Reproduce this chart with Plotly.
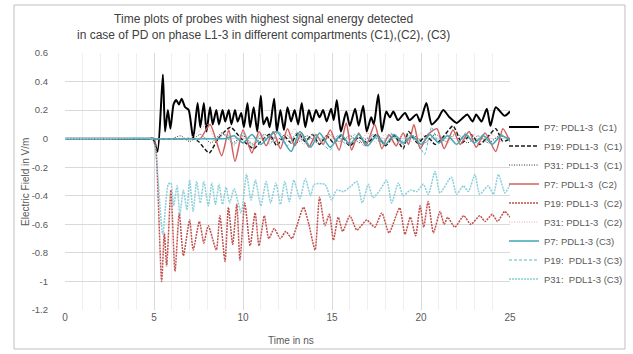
import plotly.graph_objects as go

# ---------------- data (time in ns, field in V/m) ----------------
P7_C1 = [(0,0),(2.5,0),(4.7,0),(4.95,0),(5.2,-0.09),(5.5,0.45),(5.62,0.05),(5.78,0.2),(5.92,0.07),(6.1,0.24),(6.25,0.27),(6.4,0.24),
         (6.55,0.28),(6.75,0.22),(6.95,0.2),(7.2,0.0),(7.45,0.25),(7.6,0.08),(7.8,0.25),(7.95,0.05),(8.15,0.22),(8.3,0.1),
         (8.5,0.2),(8.65,0.1),(8.85,0.2),(9.0,0.12),(9.2,0.2),(9.35,0.1),(9.55,0.2),(9.7,0.12),(9.9,0.18),(10.05,0.08),
         (10.25,0.25),(10.4,0.08),(10.6,0.22),(10.8,0.05),(11.0,0.3),(11.15,0.1),(11.35,0.15),(11.5,0.08),(11.75,0.28),(11.9,0.05),
         (12.1,0.2),(12.3,0.06),(12.5,0.22),(12.7,0.12),(12.9,0.2),(13.1,0.1),(13.3,0.25),(13.5,0.08),(13.7,0.2),(13.9,0.12),
         (14.1,0.2),(14.3,0.15),(14.5,0.2),(14.7,0.12),(14.95,0.21),(15.1,0.13),(15.27,0.27),(15.5,0.05),(15.8,0.19),(16.0,0.09),
         (16.3,0.21),(16.5,0.09),(16.75,0.23),(16.95,0.05),(17.2,0.15),(17.35,0.1),(17.6,0.31),(17.8,0.05),(18.05,0.19),(18.25,0.15),
         (18.45,0.19),(18.7,0.13),(19.1,0.18),(19.35,0.13),(19.75,0.17),(19.95,0.12),(20.3,0.25),(20.6,0.1),(20.95,0.14),(21.25,0.2),
         (21.6,0.15),(22.0,0.11),(22.3,0.14),(22.6,0.17),(22.9,0.12),(23.1,0.17),(23.4,0.12),(23.7,0.21),(23.9,0.09),(24.2,0.22),
         (24.7,0.16),(25,0.19)]

P19_C1 = [(0,0),(3.5,0),(6.8,0),(7.2,0),(7.5,-0.02),(8.1,-0.1),(8.6,0.0),(9.3,0.08),(9.9,0.0),(10.6,-0.07),(11.0,-0.02),(11.5,0.03),
          (11.9,-0.05),(12.3,0.02),(12.7,-0.03),(13.1,0.04),(13.5,-0.02),(13.9,0.03),(14.3,-0.04),(14.7,0.02),(15.1,-0.03),(15.5,0.02),
          (16.0,-0.05),(16.5,0.01),(17.0,-0.03),(17.5,0.03),(18.0,-0.05),(18.5,0.02),(19.0,-0.07),(19.3,0.05),(19.8,-0.03),(20.3,0.02),
          (20.8,-0.04),(21.3,0.02),(21.8,0.09),(22.3,-0.03),(22.8,0.03),(23.3,-0.04),(23.8,0.02),(24.2,0.07),(24.6,-0.02),(25,0.0)]

P31_C1 = [(0,0),(3.0,0),(5.6,0),(6.0,0),(6.5,0.02),(7.0,-0.02),(7.6,0.03),(8.2,-0.03),(8.8,0.04),(9.4,-0.03),(10.0,0.02),(10.6,-0.04),
          (11.2,0.03),(11.8,-0.02),(12.4,0.03),(13.0,-0.03),(13.6,0.02),(14.2,-0.03),(14.8,0.03),(15.4,-0.02),(16.0,0.02),(16.6,-0.03),
          (17.2,0.02),(17.8,-0.02),(18.4,0.03),(19.0,-0.04),(19.6,0.02),(20.2,-0.03),(20.8,0.03),(21.4,-0.02),(22.0,0.04),(22.6,-0.03),
          (23.2,0.02),(23.8,-0.03),(24.4,0.02),(25,0.0)]

P7_C2 = [(0,0),(3.5,0),(7.2,0),(7.6,0),(8.15,0.1),(8.8,-0.12),(9.2,0.06),(9.55,-0.16),(10.0,0.06),(10.5,-0.1),(10.9,0.05),(11.3,-0.05),
         (11.7,0.05),(12.1,-0.07),(12.5,0.07),(12.9,-0.05),(13.3,0.04),(13.7,-0.06),(14.1,0.03),(14.5,-0.04),(14.9,0.06),(15.4,-0.08),
         (15.8,0.11),(16.1,-0.08),(16.5,0.04),(16.9,-0.05),(17.4,0.1),(17.8,-0.07),(18.2,0.03),(18.6,-0.05),(19.0,0.04),(19.3,-0.04),
         (19.6,0.1),(19.95,-0.07),(20.4,0.03),(20.9,0.07),(21.3,-0.07),(21.8,0.06),(22.2,-0.04),(22.7,0.05),(23.1,-0.06),(23.6,0.04),
         (24.2,-0.09),(24.6,0.07),(25,-0.02)]

P19_C2 = [(0,0),(2.5,0),(4.8,0),(5.0,0),(5.1,-0.05),(5.43,-1.0),(5.58,-0.66),(5.71,-0.89),(5.95,-0.36),(6.18,-0.93),(6.42,-0.52),(6.65,-0.82),
          (7.0,-0.57),(7.2,-0.78),(7.55,-0.58),(7.8,-0.73),(8.05,-0.61),(8.5,-0.78),(8.7,-0.54),(8.99,-0.86),(9.18,-0.48),(9.42,-0.74),
          (9.65,-0.46),(9.83,-0.85),(10.1,-0.45),(10.4,-0.75),(10.68,-0.52),(10.9,-0.75),(11.2,-0.54),(11.45,-0.7),(11.75,-0.63),(12.1,-0.7),
          (12.4,-0.65),(12.75,-0.7),(13.0,-0.62),(13.4,-0.48),(13.7,-0.6),(14.05,-0.78),(14.3,-0.41),(14.6,-0.61),(14.85,-0.53),(15.08,-0.71),
          (15.35,-0.55),(15.6,-0.65),(16.0,-0.54),(16.4,-0.64),(16.95,-0.57),(17.4,-0.62),(17.8,-0.52),(18.2,-0.66),(18.8,-0.485),(19.1,-0.67),
          (19.4,-0.55),(19.7,-0.68),(19.95,-0.47),(20.15,-0.62),(20.4,-0.44),(20.7,-0.66),(21.07,-0.51),(21.3,-0.6),(21.5,-0.55),(21.9,-0.62),
          (22.4,-0.54),(22.8,-0.6),(23.3,-0.54),(23.6,-0.58),(24.0,-0.53),(24.3,-0.58),(24.7,-0.51),(25,-0.55)]

P31_C2 = [(0,0),(3.5,0),(6.6,0),(7.0,0),(7.5,0.05),(8.0,0.1),(8.5,-0.03),(9.0,0.06),(9.5,-0.05),(10.0,0.05),(10.5,-0.04),(11.0,0.04),
          (11.5,-0.03),(12.0,0.05),(12.5,-0.02),(12.9,0.07),(13.4,-0.04),(14.0,0.04),(14.5,-0.03),(15.0,0.03),(15.5,-0.04),(16.0,0.03),
          (16.5,-0.03),(17.0,0.04),(17.5,-0.03),(18.0,0.03),(18.5,-0.04),(19.0,0.03),(19.5,-0.02),(20.0,0.04),(20.5,-0.03),(21.0,0.03),
          (21.5,-0.03),(22.0,0.04),(22.5,-0.02),(23.0,0.03),(23.5,-0.03),(24.0,0.03),(24.5,-0.02),(25,0.01)]

P7_C3 = [(0,0),(4.5,0),(8.6,0),(9.0,0),(9.5,0.02),(10.0,-0.03),(10.5,0.03),(11.0,-0.04),(11.5,0.02),(11.9,0.05),(12.7,-0.09),(13.2,0.05),
         (13.8,-0.06),(14.3,0.04),(14.9,-0.06),(15.5,0.03),(16.0,-0.04),(16.5,0.03),(17.0,-0.05),(17.5,0.02),(18.0,-0.04),(18.5,0.03),
         (19.0,-0.03),(19.5,0.02),(20.0,-0.04),(20.5,0.03),(21.0,-0.03),(21.5,0.02),(22.0,-0.04),(22.5,0.03),(23.0,-0.03),(23.5,0.02),
         (24.0,-0.04),(24.5,0.02),(25,-0.01)]

P19_C3 = [(0,0),(4.0,0),(8.1,0),(8.5,0),(9.0,0.03),(9.5,-0.04),(10.0,0.04),(10.5,-0.05),(11.0,0.03),(11.5,-0.04),(12.0,0.05),(12.5,-0.05),
          (13.0,0.04),(13.5,-0.03),(14.0,0.03),(14.5,-0.04),(14.9,-0.08),(15.3,0.02),(15.8,-0.04),(16.3,0.03),(16.8,-0.05),(17.3,0.03),
          (17.8,-0.04),(18.3,0.04),(18.8,-0.03),(19.3,0.02),(19.8,-0.02),(20.2,-0.11),(20.6,0.08),(21.0,-0.03),(21.5,0.03),(22.0,-0.04),
          (22.5,0.04),(23.0,-0.03),(23.5,0.03),(24.0,-0.04),(24.5,0.03),(25,-0.02)]

P31_C3 = [(0,0),(2.5,0),(4.85,0),(5.05,-0.05),(5.49,-0.67),(5.8,-0.32),(5.95,-0.31),(6.1,-0.47),(6.3,-0.33),(6.45,-0.53),(6.65,-0.36),(6.85,-0.5),
          (7.0,-0.29),(7.2,-0.51),(7.4,-0.3),(7.6,-0.45),(7.8,-0.3),(8.05,-0.47),(8.25,-0.31),(8.45,-0.46),(8.65,-0.32),(8.85,-0.46),
          (9.05,-0.34),(9.25,-0.45),(9.5,-0.35),(9.9,-0.52),(10.2,-0.25),(10.45,-0.43),(10.7,-0.29),(11.0,-0.47),(11.3,-0.3),(11.55,-0.45),
          (11.85,-0.31),(12.1,-0.46),(12.35,-0.3),(12.6,-0.44),(12.85,-0.29),(13.2,-0.42),(13.5,-0.28),(13.8,-0.4),(14.0,-0.32),(14.6,-0.32),
          (14.98,-0.43),(15.26,-0.36),(15.64,-0.37),(16.0,-0.34),(16.4,-0.30),(16.7,-0.45),(17.04,-0.32),(17.3,-0.415),(17.7,-0.36),(18.07,-0.29),
          (18.35,-0.45),(18.73,-0.31),(19.0,-0.40),(19.4,-0.36),(19.76,-0.37),(20.13,-0.32),(20.41,-0.39),(20.79,-0.23),(21.07,-0.38),(21.7,-0.27),
          (22.0,-0.39),(22.38,-0.33),(22.66,-0.37),(23.03,-0.25),(23.3,-0.39),(23.78,-0.33),(24.07,-0.39),(24.35,-0.25),(24.72,-0.38),(25,-0.32)]

series_names = ["P7: PDL1-3  (C1)", "P19: PDL1-3  (C1)", "P31: PDL1-3  (C1)",
                "P7: PDL1-3  (C2)", "P19: PDL1-3  (C2)", "P31: PDL1-3  (C2)",
                "P7: PDL1-3 (C3)", "P19:  PDL1-3 (C3)", "P31:  PDL1-3 (C3)"]
series_data = [P7_C1, P19_C1, P31_C1, P7_C2, P19_C2, P31_C2, P7_C3, P19_C3, P31_C3]

y_tick_vals = [0.6, 0.4, 0.2, 0, -0.2, -0.4, -0.6, -0.8, -1, -1.2]
y_tick_text = ["0.6", "0.4", "0.2", "0", "-0.2", "-0.4", "-0.6", "-0.8", "-1", "-1.2"]
x_tick_vals = [0, 5, 10, 15, 20, 25]

title_text = ("Time plots of probes with highest signal energy detected<br>"
              "in case of PD on phase L1-3 in different compartments (C1),(C2), (C3)")

# ---------------- styles ----------------
styles = [
    dict(color="#000000", width=2.0, dash="solid"),
    dict(color="#1a1a1a", width=1.5, dash="4px,2px"),
    dict(color="#333333", width=1.0, dash="1px,1.5px"),
    dict(color="#D0605E", width=1.5, dash="solid"),
    dict(color="#C0504D", width=1.5, dash="2px,1px"),
    dict(color="#E8AAAA", width=1.0, dash="1px,1.5px"),
    dict(color="#3FA6B5", width=1.5, dash="solid"),
    dict(color="#5BB8CC", width=1.0, dash="3px,2px"),
    dict(color="#8ACFDC", width=1.5, dash="2px,1px"),
]

FONT = "Liberation Sans, Arial, sans-serif"
TXT = "#595959"

fig = go.Figure()
for name, data, st in zip(series_names, series_data, styles):
    t = [p[0] for p in data]
    v = [p[1] for p in data]
    fig.add_trace(go.Scatter(x=t, y=v, mode="lines", name=name,
                             line=dict(color=st["color"], width=st["width"], dash=st["dash"],
                                       shape="spline", smoothing=0.6)))

L, R, T, B = 65, 123, 53, 44
W, H = 633, 354
pw, ph = W - L - R, H - T - B

def px_to_paper_x(px):
    return (px - L) / pw

def px_to_paper_y(py):
    return (H - B - py) / ph

fig.update_layout(
    width=W, height=H,
    margin=dict(l=L, r=R, t=T, b=B, autoexpand=False),
    paper_bgcolor="white", plot_bgcolor="white",
    font=dict(family=FONT, size=10, color=TXT),
    showlegend=True,
    legend=dict(x=px_to_paper_x(504), xanchor="left", y=px_to_paper_y(203), yanchor="middle",
                font=dict(family=FONT, size=9.5, color=TXT), bgcolor="rgba(0,0,0,0)",
                tracegroupgap=0),
    xaxis=dict(range=[0, 25], tickvals=x_tick_vals, showgrid=True, gridcolor="#D9D9D9", gridwidth=1,
               zeroline=False, showline=False, ticks="",
               minor=dict(dtick=1, showgrid=True, gridcolor="#EFEFEF"),
               tickfont=dict(family=FONT, size=10, color=TXT)),
    yaxis=dict(range=[-1.2, 0.6], tickvals=y_tick_vals, ticktext=y_tick_text, showgrid=True,
               gridcolor="#D9D9D9", gridwidth=1, zeroline=False, showline=False, ticks="",
               ticklabelstandoff=16,
               tickfont=dict(family=FONT, size=9.5, color=TXT)),
    annotations=[
        dict(text=title_text, xref="paper", yref="paper", x=px_to_paper_x(263), y=px_to_paper_y(27),
             showarrow=False, xanchor="center", yanchor="middle", align="center",
             font=dict(family=FONT, size=12, color="#404040")),
        dict(text="Time in ns", xref="paper", yref="paper", x=px_to_paper_x(291), y=px_to_paper_y(340),
             showarrow=False, xanchor="center", yanchor="middle", font=dict(family=FONT, size=10, color=TXT)),
        dict(text="Electric Field in V/m", xref="paper", yref="paper", x=px_to_paper_x(25), y=px_to_paper_y(182),
             showarrow=False, textangle=-90, xanchor="center", yanchor="middle",
             font=dict(family=FONT, size=10, color=TXT)),
    ],
    shapes=[
        dict(type="rect", xref="paper", yref="paper", layer="below",
             x0=px_to_paper_x(14), x1=px_to_paper_x(625), y0=px_to_paper_y(349), y1=px_to_paper_y(5),
             line=dict(color="#BFBFBF", width=1), fillcolor="rgba(0,0,0,0)"),
    ],
)

fig.write_html("out.html")
